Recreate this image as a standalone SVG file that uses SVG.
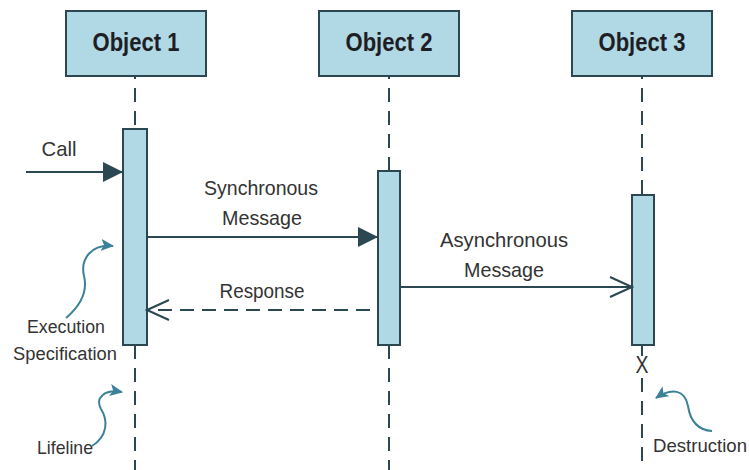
<svg xmlns="http://www.w3.org/2000/svg" width="749" height="470" viewBox="0 0 749 470">
<style>
.box{fill:#b1d8e5;stroke:#2a4752;stroke-width:2}
.act{fill:#b1d8e5;stroke:#2a4752;stroke-width:2}
.life{stroke:#2a4752;stroke-width:2;stroke-dasharray:14 9;fill:none}
.msg{stroke:#2a4752;stroke-width:2;fill:none}
.dash{stroke:#2a4752;stroke-width:2;fill:none;stroke-dasharray:14 8}
.title{font-family:"Liberation Sans",Arial,sans-serif;font-weight:bold;font-size:26px;fill:#1e1e24;text-anchor:middle}
.lbl{font-family:"Liberation Sans",Arial,sans-serif;font-size:21px;fill:#333;text-anchor:middle}
.note{font-family:"Liberation Sans",Arial,sans-serif;font-size:18px;fill:#333;text-anchor:middle}
.big{font-size:19px}
.cross{font-family:"Liberation Sans",Arial,sans-serif;font-size:24px;fill:#333;text-anchor:middle}
.curl{stroke:#3b8199;stroke-width:2;fill:none}
</style>
<defs>
<marker id="filled" viewBox="0 0 20 20" refX="20" refY="10" markerWidth="20" markerHeight="20" markerUnits="userSpaceOnUse" orient="auto">
<path d="M0,0 L20,10 L0,20 z" fill="#2a4752"/>
</marker>
<marker id="open" viewBox="-2 -2 26 24" refX="22" refY="10" markerWidth="26" markerHeight="24" markerUnits="userSpaceOnUse" orient="auto">
<path d="M0,0 L22,10 L0,20" fill="none" stroke="#2a4752" stroke-width="2"/>
</marker>
<marker id="curlhead" viewBox="0 0 13 12" refX="12" refY="6" markerWidth="13" markerHeight="12" markerUnits="userSpaceOnUse" orient="auto">
<path d="M0,0 L13,6 L0,12 L3,6 z" fill="#3b8199"/>
</marker>
</defs>

<g id="object1">
<line class="life" x1="135" y1="76" x2="135" y2="129" stroke-dashoffset="11"/>
<line class="life" x1="135" y1="345" x2="135" y2="470"/>
<rect class="box" x="66" y="11" width="140" height="65"/>
<text class="title" x="136" y="51" textLength="87" lengthAdjust="spacingAndGlyphs">Object 1</text>
<rect class="act" x="123" y="129" width="24" height="216"/>
</g>

<g id="object2">
<line class="life" x1="389" y1="76" x2="389" y2="171" stroke-dashoffset="11"/>
<line class="life" x1="389" y1="345" x2="389" y2="470"/>
<rect class="box" x="319" y="11" width="140" height="65"/>
<text class="title" x="389" y="51" textLength="87" lengthAdjust="spacingAndGlyphs">Object 2</text>
<rect class="act" x="378" y="171" width="22" height="174"/>
</g>

<g id="object3">
<line class="life" x1="642" y1="76" x2="642" y2="195" stroke-dashoffset="11"/>
<line class="msg" x1="642" y1="345" x2="642" y2="356"/>
<line class="life" x1="642" y1="378" x2="642" y2="470"/>
<rect class="box" x="572" y="11" width="140" height="65"/>
<text class="title" x="642" y="51" textLength="87" lengthAdjust="spacingAndGlyphs">Object 3</text>
<rect class="act" x="632" y="195" width="22" height="150"/>
<text class="cross" x="642" y="373" textLength="13" lengthAdjust="spacingAndGlyphs">X</text>
</g>

<g id="connectors">
<line class="msg" x1="26" y1="172" x2="123" y2="172" marker-end="url(#filled)"/>
<line class="msg" x1="147" y1="237" x2="378" y2="237" marker-end="url(#filled)"/>
<line class="dash" x1="370" y1="310" x2="147" y2="310" marker-end="url(#open)"/>
<line class="msg" x1="400" y1="287" x2="632" y2="287" marker-end="url(#open)"/>
</g>

<g id="labels">
<text class="lbl" x="59" y="156" textLength="35" lengthAdjust="spacingAndGlyphs">Call</text>
<text class="lbl" x="261" y="195" textLength="114" lengthAdjust="spacingAndGlyphs">Synchronous</text>
<text class="lbl" x="262" y="225" textLength="80" lengthAdjust="spacingAndGlyphs">Message</text>
<text class="lbl" x="262" y="298" textLength="85" lengthAdjust="spacingAndGlyphs">Response</text>
<text class="lbl" x="504" y="247" textLength="128" lengthAdjust="spacingAndGlyphs">Asynchronous</text>
<text class="lbl" x="504" y="277" textLength="80" lengthAdjust="spacingAndGlyphs">Message</text>
</g>

<g id="annotations">
<path class="curl" d="M66 318 C80 306 88 292 84 276 C80 258 92 244 113 246" marker-end="url(#curlhead)"/>
<text class="note" x="66" y="333" textLength="78" lengthAdjust="spacingAndGlyphs">Execution</text>
<text class="note" x="65" y="360" textLength="104" lengthAdjust="spacingAndGlyphs">Specification</text>
<path class="curl" d="M92 446 C108 436 108 420 101 409 C95 398 104 389 122 392" marker-end="url(#curlhead)"/>
<text class="note big" x="65" y="454" textLength="56" lengthAdjust="spacingAndGlyphs">Lifeline</text>
<path class="curl" d="M712 431 C696 430 690 419 688 406 C685 390 672 387 656 398" marker-end="url(#curlhead)"/>
<text class="note big" x="700" y="452" textLength="94" lengthAdjust="spacingAndGlyphs">Destruction</text>
</g>
</svg>
